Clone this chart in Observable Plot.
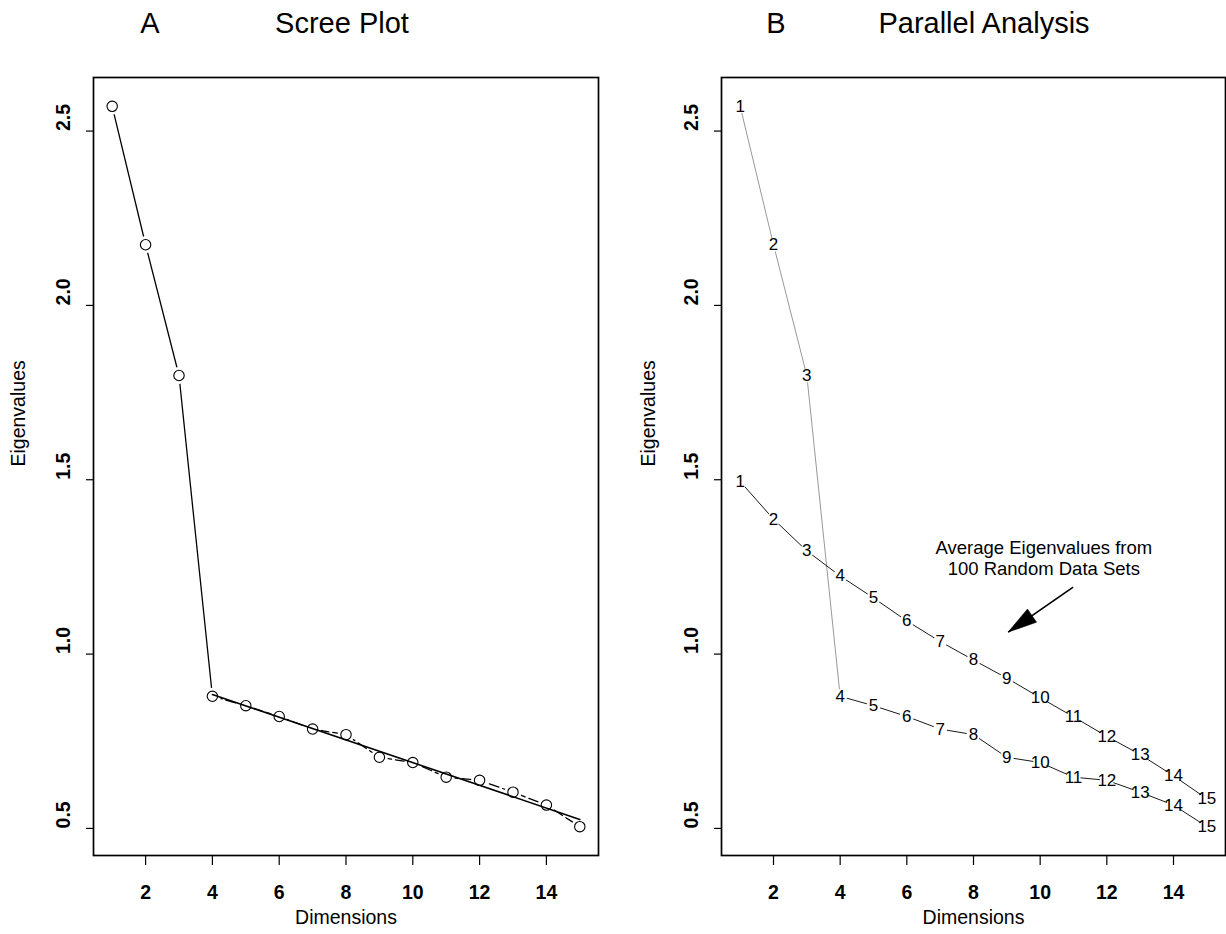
<!DOCTYPE html>
<html>
<head>
<meta charset="utf-8">
<script src="https://cdn.jsdelivr.net/npm/d3@7"></script>
<script src="https://cdn.jsdelivr.net/npm/@observablehq/plot@0.6"></script>
<style>
  html, body { margin: 0; padding: 0; background: #fff; }
  #wrap { position: relative; width: 1226px; height: 934px; overflow: hidden;
          font-family: "Liberation Sans", Arial, Helvetica, sans-serif; color: #000; }
  .panel { position: absolute; top: 0; }
  .ttl { position: absolute; top: 9px; font-size: 29px; line-height: 29px; white-space: nowrap;
         transform: translateX(-50%); }
</style>
</head>
<body>
<div id="wrap">
  <div id="panelA" class="panel" style="left:0px"></div>
  <div id="panelB" class="panel" style="left:628px"></div>
</div>
<script>
// ---- data ----
const dimensions = [1, 2, 3, 4, 5, 6, 7, 8, 9, 10, 11, 12, 13, 14, 15];
const observedEigen = [2.571, 2.174, 1.799, 0.879, 0.852, 0.821, 0.785, 0.769, 0.704, 0.689, 0.647, 0.638, 0.604, 0.567, 0.505];
const randomEigen = [1.495, 1.387, 1.296, 1.224, 1.161, 1.095, 1.036, 0.983, 0.931, 0.875, 0.820, 0.764, 0.712, 0.651, 0.585];
const xTicks = [2, 4, 6, 8, 10, 12, 14];
const yTicks = [0.5, 1.0, 1.5, 2.0, 2.5];
const yTickLabels = ["0.5", "1.0", "1.5", "2.0", "2.5"];
const panelLetters = ["A", "B"];
const panelTitles = ["Scree Plot", "Parallel Analysis"];
const xLabel = "Dimensions";
const yLabel = "Eigenvalues";
const noteLines = ["Average Eigenvalues from", "100 Random Data Sets"];
const noteAt = [10.11, 1.2755];
const arrowTail = [10.99, 1.192];
const arrowTip = [9.04, 1.063];

// ---- tables ----
const obs = dimensions.map((d, i) => ({dim: d, value: observedEigen[i]}));
const rnd = dimensions.map((d, i) => ({dim: d, value: randomEigen[i]}));

const pad = (lo, hi) => { const p = 0.04 * (hi - lo); return [lo - p, hi + p]; };
const xDomain = pad(d3.min(dimensions), d3.max(dimensions));
const allVals = observedEigen.concat(randomEigen);
const yDomain = pad(d3.min(allVals), d3.max(allVals));

const FONT = '"Liberation Sans", Arial, Helvetica, sans-serif';

function base(width, marginRight) {
  return {
    width, height: 934,
    marginTop: 77, marginBottom: 79, marginLeft: 93, marginRight,
    x: {domain: xDomain},
    y: {domain: yDomain},
    style: {fontFamily: FONT, fontSize: "19px", background: "transparent", color: "black", overflow: "visible"}
  };
}

function axisMarks(yLabelDx) {
  return [
    Plot.axisX(xTicks, {tickSize: 10, strokeWidth: 1.2, fill: "none", tickFormat: () => "", label: null}),
    Plot.axisY(yTicks, {tickSize: 7, strokeWidth: 1.2, fill: "none", tickFormat: () => "", label: null}),
    Plot.text(xTicks, {x: d => d, text: d => String(d), frameAnchor: "bottom", dy: 43,
                       fontSize: 19.5, fontWeight: "bold", fill: "black"}),
    Plot.text(yTicks, {y: d => d, text: (d, i) => yTickLabels[i], frameAnchor: "left", dx: -30,
                       rotate: -90, fontSize: 19.5, fontWeight: "bold", fill: "black"}),
    Plot.text([xLabel], {text: d => d, frameAnchor: "bottom", dy: 68, fontSize: 19.5, fill: "black"}),
    Plot.text([yLabel], {text: d => d, frameAnchor: "left", dx: yLabelDx, rotate: -90, fontSize: 19.5, fill: "black"})
  ];
}

// ---- Panel A: scree plot ----
const chartA = Plot.plot({
  ...base(620, 22),
  marks: [
    ...axisMarks(-75),
    Plot.line(obs.slice(0, 4), {x: "dim", y: "value", stroke: "black", strokeWidth: 1.3}),
    Plot.line(obs.slice(3), {x: "dim", y: "value", stroke: "black", strokeWidth: 1.3, strokeDasharray: "10,4"}),
    Plot.dot(obs, {x: "dim", y: "value", r: 8.5, fill: "white", stroke: "none"}),
    Plot.linearRegressionY(obs.slice(3), {x: "dim", y: "value", ci: 0, stroke: "black", strokeWidth: 1.6}),
    Plot.dot(obs, {x: "dim", y: "value", r: 5.2, fill: "none", stroke: "black", strokeWidth: 1.1}),
    Plot.frame({stroke: "black", strokeWidth: 1.7})
  ]
});
document.getElementById("panelA").appendChild(chartA);

// ---- Panel B: parallel analysis ----
const arrowHead = {
  draw(ctx) { ctx.moveTo(0, 0); ctx.lineTo(-8, 29); ctx.lineTo(8, 29); ctx.closePath(); }
};
const chartB = Plot.plot({
  ...base(598, 1),
  marks: [
    ...axisMarks(-73),
    Plot.line(obs.slice(0, 4), {x: "dim", y: "value", stroke: "#8c8c8c", strokeWidth: 0.9}),
    Plot.line(obs.slice(3), {x: "dim", y: "value", stroke: "black", strokeWidth: 0.9}),
    Plot.line(rnd, {x: "dim", y: "value", stroke: "black", strokeWidth: 0.9}),
    Plot.dot(obs.concat(rnd), {x: "dim", y: "value", r: 7, fill: "white", stroke: "none"}),
    Plot.text(obs, {x: "dim", y: "value", text: d => String(d.dim), fontSize: 17, fill: "black"}),
    Plot.text(rnd, {x: "dim", y: "value", text: d => String(d.dim), fontSize: 17, fill: "black"}),
    Plot.text([noteLines.join("\n")], {x: noteAt[0], y: noteAt[1], text: d => d, fontSize: 18.5,
                                       lineHeight: 1.1, fill: "black"}),
    Plot.link([{x1: arrowTail[0], y1: arrowTail[1], x2: arrowTip[0], y2: arrowTip[1]}],
              {x1: "x1", y1: "y1", x2: "x2", y2: "y2", stroke: "black", strokeWidth: 1.6}),
    Plot.dot([{x: arrowTip[0], y: arrowTip[1]}], {x: "x", y: "y", symbol: arrowHead, rotate: 235.3,
                                                  fill: "black", stroke: "black", strokeWidth: 0.5}),
    Plot.frame({stroke: "black", strokeWidth: 1.7})
  ]
});
document.getElementById("panelB").appendChild(chartB);

// ---- titles (HTML above the SVGs) ----
const wrap = document.getElementById("wrap");
const titlePos = [[150, 342], [776, 984]];
panelLetters.forEach((L, i) => {
  const a = document.createElement("div"); a.className = "ttl"; a.textContent = L;
  a.style.left = titlePos[i][0] + "px"; wrap.appendChild(a);
  const t = document.createElement("div"); t.className = "ttl"; t.textContent = panelTitles[i];
  t.style.left = titlePos[i][1] + "px"; wrap.appendChild(t);
});
</script>
</body>
</html>
